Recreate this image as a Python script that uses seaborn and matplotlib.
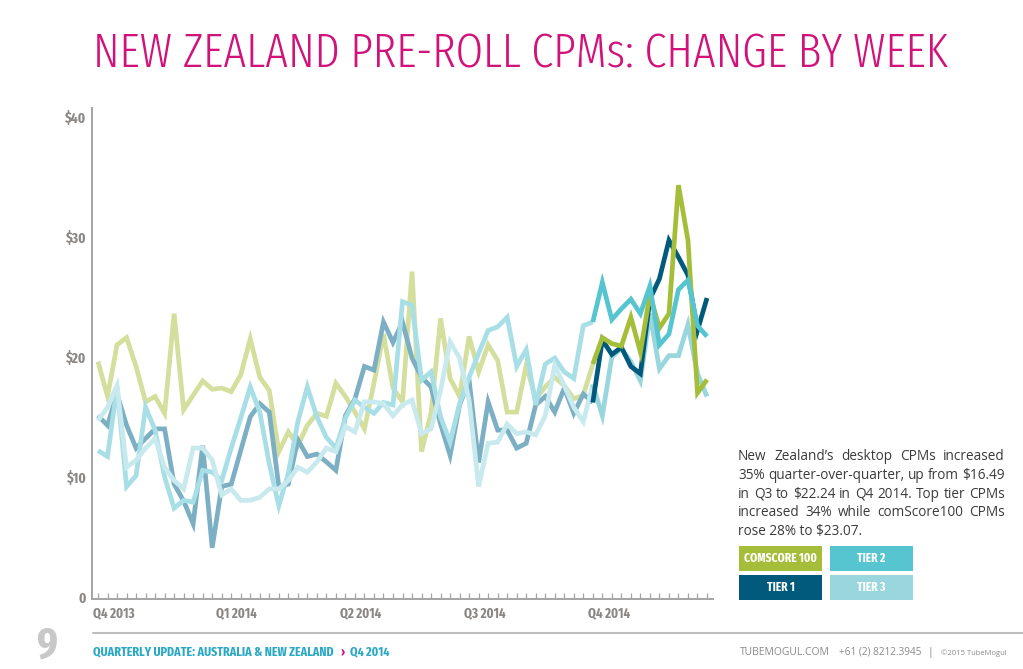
import matplotlib
matplotlib.use("Agg")
import numpy as np
import pandas as pd
import matplotlib.pyplot as plt
import seaborn as sns
from matplotlib import font_manager as fm
from matplotlib.patches import Rectangle
from matplotlib.lines import Line2D

# ---------------- data ----------------
weeks = list(range(65))
comscore = [19.6, 16.7, 21.0, 21.6, 19.2, 16.25, 16.7, 15.3, 23.6, 15.6,
            16.8, 18.0, 17.3, 17.4, 17.1, 18.5, 21.5, 18.3, 17.2, 12.1,
            13.75, 12.6, 14.3, 15.3, 15.05, 17.8, 16.7, 15.4, 14.0, 17.8,
            21.9, 17.4, 16.25, 27.1, 12.1, 15.3, 23.2, 18.2, 16.7, 21.7,
            18.75, 21.0, 19.7, 15.4, 15.4, 19.3, 16.5, 17.5, 18.3, 17.6,
            16.5, 16.8, 19.4, 21.6, 21.1, 20.9, 23.3, 20.4, 25.2, 22.4,
            23.6, 34.3, 29.7, 17.0, 18.1]
tier1 = [15.1, 14.3, 16.9, 14.3, 12.4, 13.2, 14.0, 14.0, 9.4, 8.0,
         6.1, 12.6, 4.1, 9.2, 9.4, 12.2, 15.0, 16.1, 15.4, 9.2,
         9.4, 13.1, 11.7, 11.9, 11.25, 10.55, 15.1, 16.5, 19.2, 18.9,
         22.9, 21.2, 22.9, 19.9, 18.3, 17.5, 14.4, 11.8, 16.0, 18.05,
         11.2, 16.25, 13.9, 13.9, 12.4, 12.8, 16.0, 16.7, 15.4, 17.4,
         15.3, 16.9, 16.2, 21.4, 20.2, 20.8, 19.2, 18.6, 24.8, 26.5,
         29.7, 28.3, 26.8, 22.2, 24.9]
tier2 = [12.2, 11.7, 17.5, 9.2, 10.1, 15.8, 13.9, 10.0, 7.4, 8.05,
         7.9, 10.55, 10.4, 9.7, 12.4, 14.9, 17.5, 15.4, 11.1, 7.6,
         10.3, 14.6, 17.5, 15.0, 13.3, 12.4, 14.9, 16.4, 15.8, 15.3,
         16.2, 16.0, 24.6, 24.3, 18.05, 18.75, 15.0, 12.9, 16.1, 18.3,
         20.3, 22.2, 22.5, 23.3, 19.2, 20.6, 16.0, 19.4, 19.9, 18.75,
         18.2, 22.6, 22.9, 26.2, 23.1, 24.0, 24.8, 23.6, 25.9, 21.0,
         21.9, 25.6, 26.4, 22.6, 21.7]
tier3 = [14.7, 15.8, 17.6, 10.8, 11.4, 12.4, 13.2, 10.8, 9.7, 9.0,
         12.4, 12.4, 11.4, 8.5, 9.0, 8.05, 8.05, 8.3, 9.0, 9.0,
         9.7, 10.8, 10.4, 11.25, 12.4, 12.1, 14.2, 13.75, 16.25, 16.25,
         16.1, 15.1, 16.0, 16.4, 13.6, 14.0, 17.2, 21.25, 19.9, 16.4,
         9.2, 12.8, 12.9, 14.4, 13.6, 13.75, 13.5, 15.1, 19.3, 17.6,
         15.8, 14.6, 17.7, 15.1, 20.0, 20.7, 19.6, 18.0, 23.6, 19.0,
         20.1, 20.1, 22.7, 18.6, 16.7]
series_names = ["comScore 100", "Tier 1", "Tier 2", "Tier 3"]
legend_labels = ["COMSCORE 100", "TIER 1", "TIER 2", "TIER 3"]
quarter_labels = ["Q4 2013", "Q1 2014", "Q2 2014", "Q3 2014", "Q4 2014"]
quarter_start_weeks = [0, 13, 26, 39, 52]
y_ticks = [0, 10, 20, 30, 40]
y_tick_labels = ["0", "$10", "$20", "$30", "$40"]
highlight_start = 52

title_text = "NEW ZEALAND PRE-ROLL CPMs: CHANGE BY WEEK"
paragraph_lines = [
    "New Zealand\u2019s desktop CPMs increased",
    "35% quarter-over-quarter, up from $16.49",
    "in Q3 to $22.24 in Q4 2014. Top tier CPMs",
    "increased 34% while comScore100 CPMs",
    "rose 28% to $23.07.",
]

# ---------------- styles ----------------
full_colors = {"comScore 100": "#a5be3a", "Tier 1": "#015a7b",
               "Tier 2": "#56c5d0", "Tier 3": "#99d6dd"}
faded_colors = {"comScore 100": "#d4df9d", "Tier 1": "#7cafc3",
                "Tier 2": "#a8dfe6", "Tier 3": "#c8eaee"}
MAGENTA = "#d0127a"
TEAL_TXT = "#2aa8c4"
GREY_AX = "#a4a4a4"
GREY_LBL = "#8a8784"

sns.set_theme(style="white")
plt.rcParams["font.family"] = ["DejaVu Sans"]

# -------- font helpers --------
def _wval(w):
    if isinstance(w, (int, float)):
        return int(w)
    return fm.weight_dict.get(str(w).lower(), 400)

def _sval(f):
    s = f.stretch
    if isinstance(s, (int, float)):
        v = int(s)
    else:
        v = fm.stretch_dict.get(str(s).lower(), 500)
    n = f.name.lower()
    if "extra condensed" in n or "extracondensed" in n:
        v = min(v, 200)
    elif "condensed" in n or "narrow" in n:
        v = min(v, 300)
    return v

def pick_condensed(target_weight, fallback_family, fallback_weight):
    best = None
    for f in fm.fontManager.ttflist:
        if str(f.style).lower() != "normal":
            continue
        if "mono" in f.name.lower() or "cjk" in f.name.lower():
            continue
        sv = _sval(f)
        if sv >= 500:
            continue
        score = (sv, abs(_wval(f.weight) - target_weight))
        if best is None or score < best[0]:
            best = (score, f)
    if best is not None:
        return fm.FontProperties(fname=best[1].fname)
    return fm.FontProperties(family=fallback_family, weight=fallback_weight)

avail = {f.name for f in fm.fontManager.ttflist}
def pick_family(*names):
    for n in names:
        if n in avail:
            return n
    return "DejaVu Sans"

fp_title = pick_condensed(300, "Roboto", "light")
fp_bold = pick_condensed(700, "Roboto", "bold")
body_family = pick_family("Open Sans", "Noto Sans", "Lato", "DejaVu Sans")

W, H = 1023, 669
def fx(x):
    return x / W
def fy(y):
    return 1 - y / H

fig = plt.figure(figsize=(W / 100, H / 100), dpi=100)
fig.patch.set_facecolor("white")
renderer = fig.canvas.get_renderer()

def fit_width(t, target):
    for _ in range(3):
        w = t.get_window_extent(renderer).width
        if w <= 0:
            break
        t.set_fontsize(t.get_fontsize() * target / w)

# ---------------- main axes ----------------
ax = fig.add_axes([fx(92), fy(599), (713 - 92) / W, (599 - 108) / H])
ax.set_facecolor("white")

values = {"comScore 100": comscore, "Tier 1": tier1, "Tier 2": tier2, "Tier 3": tier3}
rows = []
for name in series_names:
    for wk, v in zip(weeks, values[name]):
        rows.append({"week": wk, "cpm": v, "series": name})
df = pd.DataFrame(rows)
df_faded = df[df["week"] <= highlight_start]
df_full = df[df["week"] >= highlight_start]

sns.lineplot(data=df_faded, x="week", y="cpm", hue="series",
             hue_order=["comScore 100", "Tier 1", "Tier 2", "Tier 3"],
             palette=faded_colors, linewidth=3.4, estimator=None, sort=True,
             legend=False, ax=ax, solid_joinstyle="miter", solid_capstyle="butt")
sns.lineplot(data=df_full, x="week", y="cpm", hue="series",
             hue_order=["Tier 3", "Tier 1", "comScore 100", "Tier 2"],
             palette=full_colors, linewidth=3.4, estimator=None, sort=True,
             legend=False, ax=ax, solid_joinstyle="miter", solid_capstyle="butt")

px_per_week = (707 - 98) / 64.0
ax.set_xlim(-(98 - 92) / px_per_week, 64 + (713 - 707) / px_per_week)
px_per_dollar = (597 - 116.7) / 40.0
ax.set_ylim(-(599 - 597) / px_per_dollar, 40 + (116.7 - 108) / px_per_dollar)

ax.set_xlabel("")
ax.set_ylabel("")
for s in ["top", "right"]:
    ax.spines[s].set_visible(False)
for s in ["left", "bottom"]:
    ax.spines[s].set_color(GREY_AX)
    ax.spines[s].set_linewidth(1.4)

ax.set_xticks(weeks, labels=[""] * len(weeks))
ax.tick_params(axis="x", which="major", direction="in", length=4.3,
               width=0.9, color=GREY_AX, bottom=True)
ax.set_xticks([w - 0.55 for w in quarter_start_weeks], labels=quarter_labels, minor=True)
ax.tick_params(axis="x", which="minor", length=0, pad=5.2, bottom=True)
for lab in ax.get_xticklabels(minor=True):
    lab.set_fontproperties(fp_bold)
    lab.set_fontsize(10)
    lab.set_color(GREY_LBL)
    lab.set_ha("left")

ax.set_yticks(y_ticks, labels=y_tick_labels)
ax.tick_params(axis="y", length=0, pad=4.0, left=True)
for lab in ax.get_yticklabels():
    lab.set_fontproperties(fp_bold)
    lab.set_fontsize(10.5)
    lab.set_color(GREY_LBL)
ax.grid(False)

# ---------------- title ----------------
t_title = fig.text(fx(93), fy(67), title_text, fontproperties=fp_title,
                   color=MAGENTA, ha="left", va="baseline")
t_title.set_fontsize(40)
fit_width(t_title, 855)

# ---------------- paragraph (justified) ----------------
probe = fig.text(0, 0, paragraph_lines[1], family=body_family, fontsize=10)
fit_width(probe, 267)
body_size = probe.get_fontsize()
probe.remove()

x_left, x_right = 738, 1005
for i, line in enumerate(paragraph_lines):
    yb = 460 + 18.8 * i
    if i == len(paragraph_lines) - 1:
        fig.text(fx(x_left), fy(yb), line, family=body_family, fontsize=body_size,
                 color="#3b3b3b", ha="left", va="baseline")
        continue
    words = line.split(" ")
    objs = [fig.text(0, fy(yb), wd, family=body_family, fontsize=body_size,
                     color="#3b3b3b", ha="left", va="baseline") for wd in words]
    widths = [o.get_window_extent(renderer).width for o in objs]
    gap = (x_right - x_left - sum(widths)) / max(len(words) - 1, 1)
    xc = x_left
    for o, wdt in zip(objs, widths):
        o.set_x(fx(xc))
        xc += wdt + gap

# ---------------- legend boxes ----------------
boxes = {"comScore 100": (739, 546), "Tier 2": (830, 546),
         "Tier 1": (739, 575), "Tier 3": (830, 575)}
for name, lab in zip(series_names, legend_labels):
    bx, by = boxes[name]
    fig.patches.append(Rectangle((fx(bx), fy(by + 25)), 83 / W, 25 / H,
                                 transform=fig.transFigure, facecolor=full_colors[name],
                                 edgecolor="none"))
    fig.text(fx(bx + 41.5), fy(by + 12.5), lab, fontproperties=fp_bold, fontsize=9,
             color="white", ha="center", va="center")

# ---------------- footer ----------------
fig.add_artist(Line2D([fx(93), fx(1023)], [fy(633), fy(633)], color="#bdbdbd",
                      linewidth=1.5, transform=fig.transFigure))
t9 = fig.text(fx(36), fy(657), "9", fontproperties=fp_bold, color="#c8c8c8",
              ha="left", va="baseline")
t9.set_fontsize(36)
fit_width(t9, 21)

t_q = fig.text(fx(93), fy(655), "QUARTERLY UPDATE: AUSTRALIA & NEW ZEALAND",
               fontproperties=fp_bold, color=TEAL_TXT, ha="left", va="baseline")
t_q.set_fontsize(7)
fit_width(t_q, 240)
fs_q = t_q.get_fontsize()
fig.text(fx(341), fy(655), "\u203a", fontproperties=fp_bold, fontsize=fs_q,
         color=MAGENTA, ha="left", va="baseline")
t_q4 = fig.text(fx(350), fy(655), "Q4 2014", fontproperties=fp_bold, fontsize=fs_q,
                color=TEAL_TXT, ha="left", va="baseline")

t_tm = fig.text(fx(740), fy(655), "TUBEMOGUL.COM", family=body_family, fontsize=7,
                color="#8a8a8a", ha="left", va="baseline")
fit_width(t_tm, 90)
t_ph = fig.text(fx(839), fy(655), "+61 (2) 8212.3945", family=body_family,
                fontsize=t_tm.get_fontsize(), color="#8a8a8a", ha="left", va="baseline")
fit_width(t_ph, 82)
fig.text(fx(930), fy(655), "|", family=body_family, fontsize=t_tm.get_fontsize(),
         color="#8a8a8a", ha="center", va="baseline")
t_c = fig.text(fx(941), fy(655), "\u00a92015 TubeMogul", family=body_family,
               fontsize=5.5, color="#8a8a8a", ha="left", va="baseline")
fit_width(t_c, 66)

fig.savefig("out.png", dpi=100, facecolor="white")
